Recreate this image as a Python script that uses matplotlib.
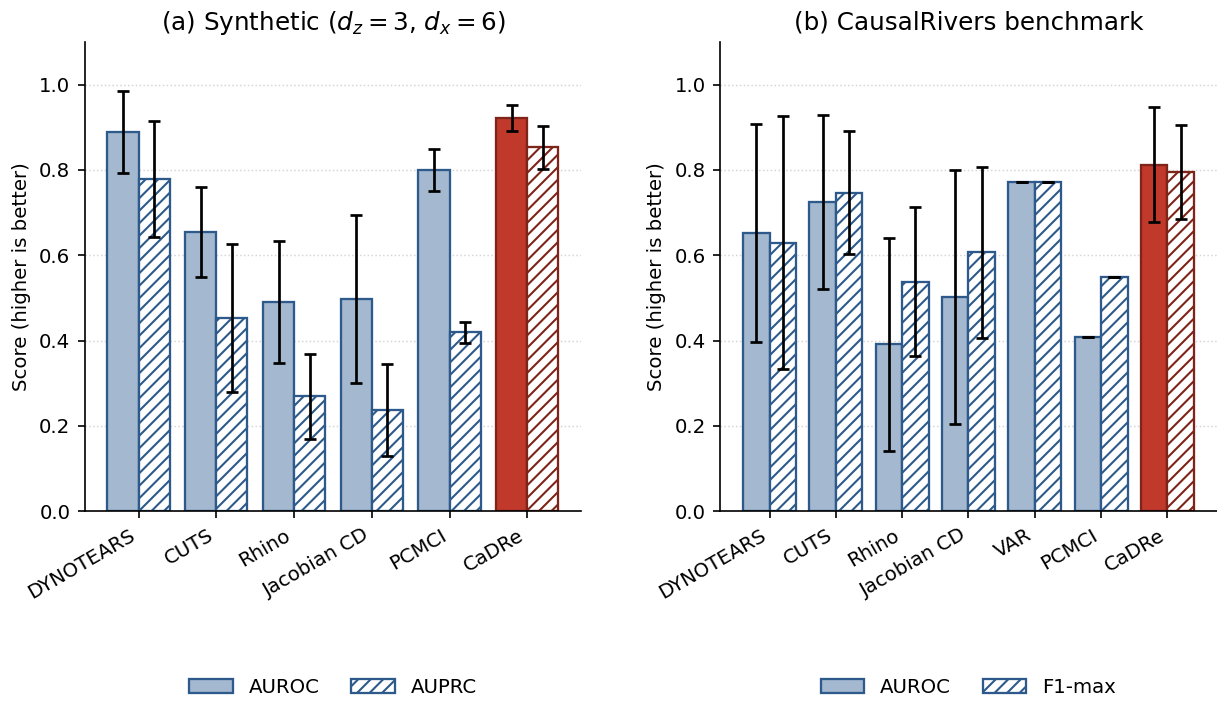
import numpy as np
import matplotlib
matplotlib.use("Agg")
import matplotlib.pyplot as plt
from matplotlib.patches import Patch

plt.rcParams['font.family'] = ['DejaVu Sans']
plt.rcParams['font.size'] = 9.5

# (a) synthetic data
syn_methods = ["DYNOTEARS", "CUTS", "Rhino", "Jacobian CD", "PCMCI", "CaDRe"]
syn_auroc = [0.890, 0.655, 0.491, 0.498, 0.800, 0.922]
syn_auroc_err = [0.096, 0.105, 0.143, 0.197, 0.050, 0.030]
syn_auprc = [0.779, 0.453, 0.269, 0.237, 0.419, 0.853]
syn_auprc_err = [0.137, 0.173, 0.100, 0.109, 0.025, 0.050]

# (b) CausalRivers
riv_methods = ["DYNOTEARS", "CUTS", "Rhino", "Jacobian CD", "VAR", "PCMCI", "CaDRe"]
riv_auroc = [0.653, 0.725, 0.391, 0.502, 0.772, 0.408, 0.812]
riv_auroc_err = [0.256, 0.205, 0.250, 0.297, 0.0, 0.0, 0.135]
riv_f1 = [0.629, 0.747, 0.538, 0.607, 0.772, 0.549, 0.796]
riv_f1_err = [0.297, 0.145, 0.175, 0.200, 0.0, 0.0, 0.110]

BLUE_FILL = "#a4b8d0"
BLUE_EDGE = "#2d5a8a"
RED_FILL = "#c0392b"
RED_EDGE = "#7e2419"
HATCH = "////"


def draw_panel(ax, methods, v1, e1, v2, e2, title, name2):
    x = np.arange(len(methods))
    w = 0.4
    ours = [m == "CaDRe" for m in methods]
    fills = [RED_FILL if o else BLUE_FILL for o in ours]
    edges = [RED_EDGE if o else BLUE_EDGE for o in ours]

    ax.bar(x - w / 2, v1, w, color=fills, edgecolor=edges, linewidth=1.1, zorder=2)
    for xi, v, ec in zip(x + w / 2, v2, edges):
        ax.bar(xi, v, w, facecolor="white", edgecolor=ec, hatch=HATCH,
               linewidth=1.1, zorder=2)

    ax.errorbar(x - w / 2, v1, yerr=e1, fmt="none", ecolor="black",
                elinewidth=1.3, capsize=3, capthick=1.3, zorder=3)
    ax.errorbar(x + w / 2, v2, yerr=e2, fmt="none", ecolor="black",
                elinewidth=1.3, capsize=3, capthick=1.3, zorder=3)

    ax.set_xticks(x)
    ax.set_xticklabels(methods, rotation=30, ha="right")
    ax.set_ylim(0, 1.1)
    ax.set_yticks([0.0, 0.2, 0.4, 0.6, 0.8, 1.0])
    ax.set_ylabel("Score (higher is better)")
    ax.set_title(title, fontsize=11.8)
    ax.yaxis.grid(True, linestyle=":", color="#d4d4d4", linewidth=0.7)
    ax.set_axisbelow(True)
    ax.spines["top"].set_visible(False)
    ax.spines["right"].set_visible(False)

    handles = [Patch(facecolor=BLUE_FILL, edgecolor=BLUE_EDGE, linewidth=1.1),
               Patch(facecolor="white", edgecolor=BLUE_EDGE, hatch=HATCH, linewidth=1.1)]
    ax.legend(handles, ["AUROC", name2], loc="center", bbox_to_anchor=(0.5, -0.377),
              ncol=2, frameon=False, handlelength=2.2, columnspacing=1.6,
              handletextpad=0.8)


fig = plt.figure(figsize=(1217 / 150, 703 / 150), dpi=150)
ax1 = fig.add_axes([0.0698, 0.2731, 0.4076, 0.667])
ax2 = fig.add_axes([0.592, 0.2731, 0.4076, 0.667])

draw_panel(ax1, syn_methods, syn_auroc, syn_auroc_err, syn_auprc, syn_auprc_err,
           r"(a) Synthetic ($d_z = 3$, $d_x = 6$)", "AUPRC")
draw_panel(ax2, riv_methods, riv_auroc, riv_auroc_err, riv_f1, riv_f1_err,
           "(b) CausalRivers benchmark", "F1-max")

fig.savefig("out.png", dpi=150)
